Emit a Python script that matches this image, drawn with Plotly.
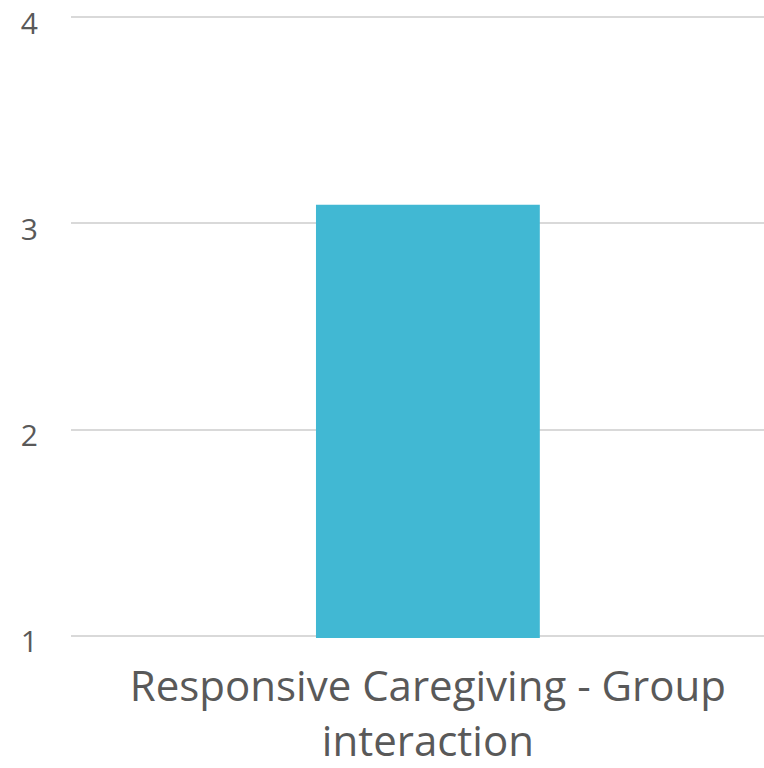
import plotly.graph_objects as go

# Data
categories = ["Responsive Caregiving - Group<br>interaction"]
values = [3.09]
y_ticks = [1, 2, 3, 4]

BAR_COLOR = "#41B8D3"
TEXT_COLOR = "#595959"
GRID_COLOR = "#D9D9D9"

fig = go.Figure(
    go.Bar(
        x=categories,
        y=values,
        base=0,
        marker=dict(color=BAR_COLOR, line=dict(width=0)),
        width=0.323,
        hoverinfo="x+y",
    )
)

fig.update_layout(
    width=764,
    height=768,
    margin=dict(l=71, r=0, t=15, b=130),
    paper_bgcolor="white",
    plot_bgcolor="white",
    showlegend=False,
    font=dict(family="Open Sans", color=TEXT_COLOR),
)

fig.update_xaxes(
    range=[-0.515, 0.485],
    showgrid=False,
    showline=False,
    zeroline=False,
    ticks="",
    tickfont=dict(size=42, color=TEXT_COLOR, family="Open Sans"),
    ticklabelstandoff=20,
    automargin=False,
)

# range padded slightly so the gridlines at 1 and 4 are drawn
fig.update_yaxes(
    range=[0.99, 4.01],
    tickvals=y_ticks,
    ticktext=[str(v) for v in y_ticks],
    showgrid=True,
    gridcolor=GRID_COLOR,
    gridwidth=1.5,
    showline=False,
    zeroline=False,
    ticks="",
    tickfont=dict(size=30, color=TEXT_COLOR, family="Open Sans"),
    ticklabelstandoff=32,
    ticklabeloverflow="allow",
    ticklabelshift=6,
    automargin=False,
)

fig.write_html("out.html")
